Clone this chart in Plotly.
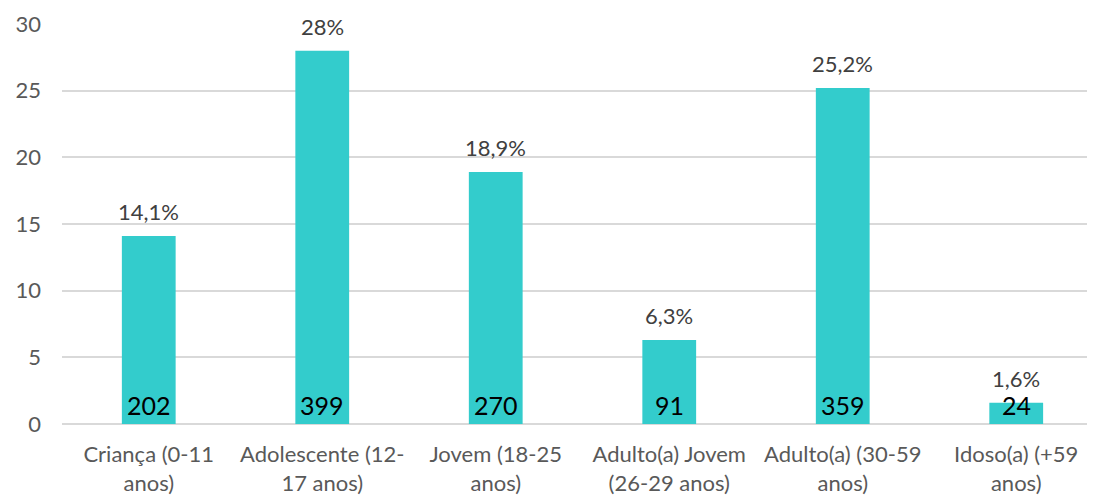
import plotly.graph_objects as go

categories = ["Criança (0-11<br>anos)", "Adolescente (12-<br>17 anos)", "Jovem (18-25<br>anos)",
              "Adulto(a) Jovem<br>(26-29 anos)", "Adulto(a) (30-59<br>anos)", "Idoso(a) (+59<br>anos)"]
percentages = [14.1, 28.0, 18.9, 6.3, 25.2, 1.6]
pct_labels = ["14,1%", "28%", "18,9%", "6,3%", "25,2%", "1,6%"]
counts = [202, 399, 270, 91, 359, 24]
y_ticks = [0, 5, 10, 15, 20, 25, 30]

FONT = "Lato"
fig = go.Figure()
fig.add_trace(go.Bar(
    x=list(range(len(categories))), y=percentages,
    marker=dict(color="#33CCCC", line=dict(width=0)),
    width=0.31, hoverinfo="skip",
))
for i, (p, lab) in enumerate(zip(percentages, pct_labels)):
    fig.add_annotation(x=i, y=p, text=lab, showarrow=False, yanchor="bottom",
                       yshift=9, font=dict(family=FONT, size=22, color="#404040"))
for i, c in enumerate(counts):
    fig.add_annotation(x=i, y=0, text=str(c), showarrow=False, yanchor="bottom",
                       yshift=2, font=dict(family=FONT, size=25, color="#000000"))

fig.update_layout(
    width=1095, height=496, margin=dict(l=54, r=8, t=16, b=80),
    plot_bgcolor="white", paper_bgcolor="white", showlegend=False,
    font=dict(family=FONT, size=22, color="#595959"),
    xaxis=dict(tickmode="array", tickvals=list(range(len(categories))), ticktext=categories,
               range=[-0.5, 5.454], showgrid=False, zeroline=False, ticks="",
               showline=False, ticklabelstandoff=15, automargin=False,
               tickfont=dict(family=FONT, size=22, color="#595959")),
    yaxis=dict(range=[0, 30], tickvals=y_ticks, showgrid=True, gridcolor="#D9D9D9", gridwidth=2,
               zeroline=True, zerolinecolor="#D9D9D9", zerolinewidth=2, ticks="",
               ticklabelstandoff=20, automargin=False,
               tickfont=dict(family=FONT, size=22, color="#595959")),
)
fig.write_html("out.html")
